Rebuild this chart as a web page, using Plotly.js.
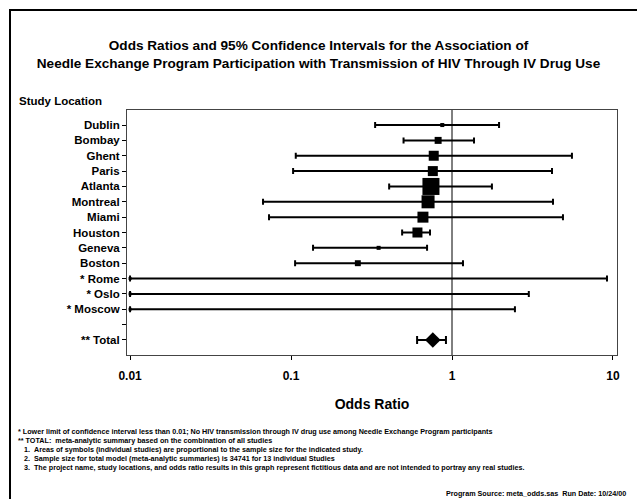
<!DOCTYPE html>
<html>
<head>
<meta charset="utf-8">
<script src="https://cdn.plot.ly/plotly-3.0.1.min.js"></script>
<style>html,body{margin:0;padding:0;background:#fff;}#chart{width:637px;height:499px;}</style>
</head>
<body>
<div id="chart"></div>
<script>
// ---- data ----
const studyLabels = ["Dublin","Bombay","Ghent","Paris","Atlanta","Montreal","Miami","Houston","Geneva","Boston","* Rome","* Oslo","* Moscow"];
const oddsRatio   = [0.87, 0.82, 0.77, 0.76, 0.74, 0.71, 0.66, 0.61, 0.35, 0.26, 0.01, 0.01, 0.01];
const ciLower     = [0.333, 0.50, 0.107, 0.103, 0.407, 0.067, 0.073, 0.49, 0.137, 0.106, 0.01, 0.01, 0.01];
const ciUpper     = [1.96, 1.37, 5.56, 4.18, 1.77, 4.24, 4.89, 0.73, 0.70, 1.17, 9.18, 3.0, 2.46];
const sampleSize  = [550, 1650, 3400, 3400, 9841, 5750, 4100, 3400, 550, 1200, 300, 300, 300];
const totalLabel  = "** Total";
const totalOR     = 0.76;
const totalLower  = 0.607;
const totalUpper  = 0.917;
const xTickVals   = [0.01, 0.1, 1, 10];
const xTickText   = ["0.01", "0.1", "1", "10"];

// ---- build ----
const nStudy = studyLabels.length;
const yStudy = studyLabels.map((_, i) => i);
const yTotal = nStudy + 1;              // blank row before total
const allTickVals = [];
const allTickText = [];
for (let i = 0; i <= yTotal; i++) {
  allTickVals.push(i);
  allTickText.push(i < nStudy ? studyLabels[i] : (i === yTotal ? totalLabel : " "));
}
const totalN = sampleSize.reduce((a, b) => a + b, 0);
const markerSizes = sampleSize.map(n => Math.sqrt(n / totalN * 1023));

const font = {family: "Liberation Sans, Arial, sans-serif", color: "#000"};

const studies = {
  type: "scatter", mode: "markers",
  x: oddsRatio, y: yStudy,
  marker: {symbol: "square", color: "#000", opacity: 1, size: markerSizes, line: {width: 0}},
  error_x: {type: "data", symmetric: false,
    array: oddsRatio.map((v, i) => ciUpper[i] - v),
    arrayminus: oddsRatio.map((v, i) => v - ciLower[i]),
    color: "#000", thickness: 2, width: 3},
  showlegend: false
};
const total = {
  type: "scatter", mode: "markers",
  x: [totalOR], y: [yTotal],
  marker: {symbol: "diamond", color: "#000", opacity: 1, size: 12},
  error_x: {type: "data", symmetric: false,
    array: [totalUpper - totalOR], arrayminus: [totalOR - totalLower],
    color: "#000", thickness: 2, width: 4},
  showlegend: false
};

const px = x => (x - 127) / 490;
const py = y => (355 - y) / 245;

const foot = [
  "* Lower limit of confidence interval less than 0.01; No HIV transmission through IV drug use among Needle Exchange Program participants",
  "** TOTAL:  meta-analytic summary based on the combination of all studies",
  "   1.  Areas of symbols (individual studies) are proportional to the sample size for the indicated study.",
  "   2.  Sample size for total model (meta-analytic summaries) is 34741 for 13 individual Studies",
  "   3.  The project name, study locations, and odds ratio results in this graph represent fictitious data and are not intended to portray any real studies."
];
const footY = [431, 440, 449, 458, 467];
const annotations = foot.map((t, i) => ({
  xref: "paper", yref: "paper", x: px(16), y: py(footY[i]),
  xanchor: "left", yanchor: "middle", showarrow: false,
  text: t.replace(/  /g, "&nbsp;&nbsp;").replace(/^ /, "&nbsp;"),
  font: Object.assign({}, font, {size: 7.2, weight: "bold"})
}));
annotations.push({
  xref: "paper", yref: "paper", x: px(628), y: py(493),
  xanchor: "right", yanchor: "middle", showarrow: false,
  text: "Program Source: meta_odds.sas  Run Date: 10/24/00".replace(/  /g, "&nbsp;&nbsp;"),
  font: Object.assign({}, font, {size: 7.2, weight: "bold"})
});
annotations.push({
  xref: "paper", yref: "paper", x: px(17), y: py(101),
  xanchor: "left", yanchor: "middle", showarrow: false,
  text: "Study Location",
  font: Object.assign({}, font, {size: 11.5, weight: "bold"})
});

const layout = {
  width: 637, height: 499,
  margin: {l: 127, r: 20, t: 110, b: 144},
  paper_bgcolor: "#fff", plot_bgcolor: "#fff",
  font: font,
  title: {
    text: "Odds Ratios and 95% Confidence Intervals for the Association of<br>Needle Exchange Program Participation with Transmission of HIV Through IV Drug Use",
    xref: "container", x: 0.5, yref: "container", y: 1 - 50 / 499, yanchor: "middle",
    font: Object.assign({}, font, {size: 13.6, weight: "bold"})
  },
  xaxis: {
    type: "log", range: [-2.019, 1.025],
    tickvals: xTickVals, ticktext: xTickText,
    ticks: "outside", ticklen: 4, tickwidth: 1, tickcolor: "#000",
    ticklabelstandoff: 6,
    showgrid: false, zeroline: false,
    showline: true, linecolor: "#444", linewidth: 1, mirror: true,
    tickfont: Object.assign({}, font, {size: 12, weight: "bold"}),
    title: {text: "Odds Ratio", standoff: 16, font: Object.assign({}, font, {size: 14, weight: "bold"})}
  },
  yaxis: {
    range: [yTotal + 0.98, -0.98],
    tickvals: allTickVals, ticktext: allTickText,
    ticks: "outside", ticklen: 4, tickwidth: 1, tickcolor: "#000",
    showgrid: false, zeroline: false,
    showline: true, linecolor: "#444", linewidth: 1, mirror: true,
    tickfont: Object.assign({}, font, {size: 11.5, weight: "bold"})
  },
  shapes: [
    {type: "line", xref: "x", yref: "paper", x0: 1, x1: 1, y0: 0, y1: 1, line: {color: "#000", width: 1}},
    {type: "rect", xref: "paper", yref: "paper", x0: px(10), x1: px(660), y0: py(520), y1: py(10), line: {color: "#000", width: 2}}
  ],
  annotations: annotations
};

Plotly.newPlot("chart", [studies, total], layout, {displayModeBar: false, staticPlot: true});
</script>
</body>
</html>
